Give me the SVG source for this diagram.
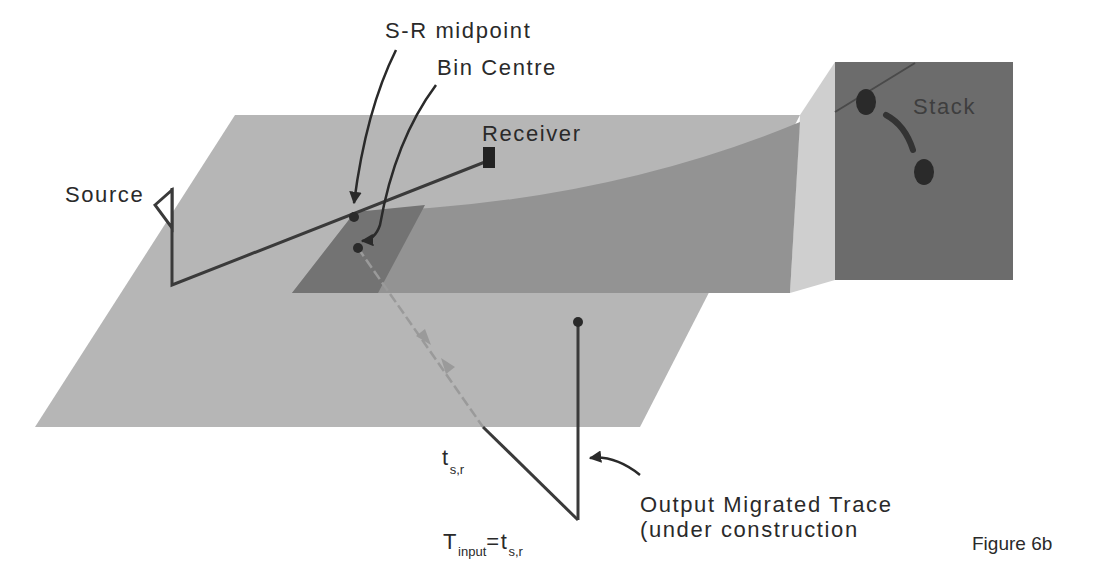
<svg xmlns="http://www.w3.org/2000/svg" width="1100" height="580" viewBox="0 0 1100 580">
<defs>
<style>
text{font-family:"Liberation Sans",Arial,sans-serif;fill:#2a2a2a}
.lbl{font-size:22px;letter-spacing:1.6px}
.ln{fill:none;stroke:#3a3a3a;stroke-width:3}
.cv{fill:none;stroke:#2a2a2a;stroke-width:2.5}
</style>
<marker id="ah" viewBox="0 0 10 10" refX="9" refY="5" markerWidth="5" markerHeight="5" orient="auto"><path d="M0,0L10,5L0,10z" fill="#2a2a2a"/></marker>
</defs>
<rect width="1100" height="580" fill="#fff"/>
<polygon points="235,115 800,115 640,427 35,427" fill="#b6b6b6"/>
<polygon points="800,115 835,62 835,280 790,293" fill="#cfcfcf"/>
<path d="M292,293 L355,212 Q600,205 800,122 L790,293 Z" fill="#939393"/>
<polygon points="292,293 355,212 425,205 378,293" fill="#737373"/>
<rect x="835" y="62" width="178" height="218" fill="#6c6c6c"/>
<g id="stack">
<line x1="835" y1="112" x2="915" y2="63" stroke="#4a4a4a" stroke-width="2"/>
<ellipse cx="866" cy="102" rx="10" ry="13" fill="#2a2a2a"/>
<ellipse cx="924" cy="172" rx="10" ry="13" fill="#2a2a2a"/>
<path d="M886,115 Q905,125 913,150" stroke="#333" stroke-width="6" fill="none" stroke-linecap="round"/>
<text x="913" y="114" class="lbl" style="fill:#3e3e3e">Stack</text>
</g>
<g id="connectors">
<polyline class="ln" points="172,188 172,285 490,160"/>
<line x1="358" y1="248" x2="483" y2="427" stroke="#9a9a9a" stroke-width="2.5" stroke-dasharray="10,4"/>
<line x1="483" y1="427" x2="578" y2="520" stroke="#3a3a3a" stroke-width="3"/>
<line x1="578" y1="322" x2="578" y2="520" stroke="#3a3a3a" stroke-width="3"/>
<polygon points="431,345 416,336 425,329" fill="#9a9a9a"/>
<polygon points="441,358 455,367 446,374" fill="#9a9a9a"/>
<path class="cv" d="M396,50 Q366,110 354,203" marker-end="url(#ah)"/>
<path class="cv" d="M436,85 Q395,140 380,225 Q375,240 362,241" marker-end="url(#ah)"/>
<path class="cv" d="M640,475 Q615,455 590,458" marker-end="url(#ah)"/>
</g>
<g id="source"><polygon points="155,205 172,190 172,228" fill="#fff" stroke="#3a3a3a" stroke-width="3"/><text x="65" y="202" class="lbl">Source</text></g>
<g id="receiver"><rect x="483" y="147" width="12" height="21" fill="#222"/><text x="482" y="141" class="lbl">Receiver</text></g>
<g id="midpoint"><circle cx="354" cy="217" r="5" fill="#2a2a2a"/><text x="385" y="38" class="lbl">S-R midpoint</text></g>
<g id="bin"><circle cx="358" cy="248" r="5" fill="#2a2a2a"/><text x="437" y="75" class="lbl">Bin Centre</text></g>
<g id="trace"><circle cx="578" cy="322" r="5" fill="#2a2a2a"/><text x="640" y="512" class="lbl">Output Migrated Trace</text><text x="640" y="537" class="lbl">(under construction</text></g>
<text x="442" y="465" class="lbl">t<tspan font-size="13" dy="9" letter-spacing="0">s,r</tspan></text>
<text x="443" y="549" class="lbl">T<tspan font-size="13" dy="7" letter-spacing="0">input</tspan><tspan dy="-7">=t</tspan><tspan font-size="13" dy="7" letter-spacing="0">s,r</tspan></text>
<text x="972" y="550" font-size="19">Figure 6b</text>
</svg>
